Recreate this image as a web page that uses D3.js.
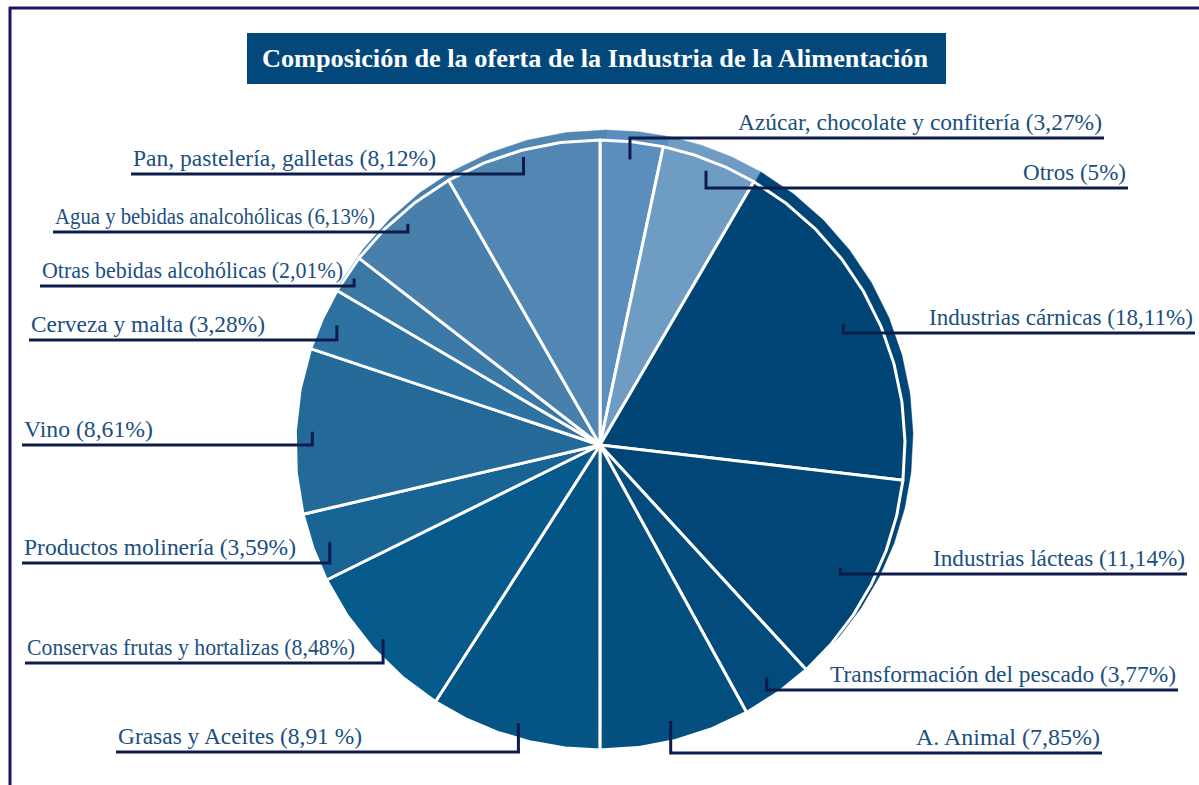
<!DOCTYPE html>
<html>
<head>
<meta charset="utf-8">
<script src="https://cdn.jsdelivr.net/npm/d3@7"></script>
<style>
  body { margin: 0; background: #fff; }
  svg { display: block; font-family: "Liberation Serif", "Times New Roman", serif; }
</style>
</head>
<body>
<div id="chart"></div>
<script>
//~~~~~~~~~~~~~~~~~~DATA
// slices clockwise from 12 o'clock
let categories = [
  'Azúcar, chocolate y confitería', 'Otros', 'Industrias cárnicas',
  'Industrias lácteas', 'Transformación del pescado', 'A. Animal',
  'Grasas y Aceites', 'Conservas frutas y hortalizas', 'Productos molinería',
  'Vino', 'Cerveza y malta', 'Otras bebidas alcohólicas',
  'Agua y bebidas analcohólicas', 'Pan, pastelería, galletas'
];
let values = [3.27, 5, 18.11, 11.14, 3.77, 7.85, 8.91, 8.48, 3.59, 8.61, 3.28, 2.01, 6.13, 8.12];
let valueLabels = ['3,27%', '5%', '18,11%', '11,14%', '3,77%', '7,85%', '8,91 %', '8,48%',
  '3,59%', '8,61%', '3,28%', '2,01%', '6,13%', '8,12%'];
let sliceColors = ['#5b8ebc', '#6e9cc3', '#004576', '#014677', '#024b7c', '#034f80', '#045585',
  '#075b8c', '#186495', '#236a99', '#2d72a0', '#3a78a5', '#487fab', '#5187b2'];

//~~~~~~~~~~~~~~~~~~LAYOUT
let width = 1199;
let height = 785;
let cx = 600;
let cy = 445;
let radius = 305;

// label side, text x (start for left, end for right), text width, underline y, elbow radius
let labelSide = ['r', 'r', 'r', 'r', 'r', 'r', 'l', 'l', 'l', 'l', 'l', 'l', 'l', 'l'];
let labelX = [1102, 1126, 1193, 1185, 1176, 1100, 118, 27, 24, 24, 31, 42, 55, 133];
let labelW = [364, 103, 264, 252, 346, 184, 244, 328, 272, 129, 234, 301, 320, 303];
let labelY = [138, 188, 333, 574, 690, 753, 752, 663, 563, 445, 340, 286, 232, 174];
let elbowR = [287, 294, 272, 270, 286, 285, 290, 291, 287, 288, 289, 297, 293, 298];

let svg = d3.select('#chart')
  .append('svg')
  .attr('width', width)
  .attr('height', height);

//frame lines top and left
svg.append('line')
  .attr('x1', 9).attr('y1', 8).attr('x2', width).attr('y2', 8)
  .attr('stroke', '#1b1760').attr('stroke-width', 3);
svg.append('line')
  .attr('x1', 10).attr('y1', 7).attr('x2', 10).attr('y2', height)
  .attr('stroke', '#1b1760').attr('stroke-width', 3);

//title box
svg.append('rect')
  .attr('x', 247).attr('y', 33).attr('width', 699).attr('height', 51)
  .attr('fill', '#02487b');
svg.append('text')
  .attr('x', 262).attr('y', 67)
  .attr('fill', '#fff')
  .attr('font-weight', 'bold')
  .attr('font-size', 25)
  .attr('textLength', 666)
  .attr('lengthAdjust', 'spacingAndGlyphs')
  .text('Composición de la oferta de la Industria de la Alimentación');

//~~~~~~~~~~~~~~~~~~PIE
let pie = d3.pie()
  .value(function(d) { return d; })
  .sort(null);

let arcs = pie(values);

// the original pie is drawn with straight segments, so build polygons
function polyArc(d, r, ox, oy) {
  let step = 8 * Math.PI / 180;
  let n = Math.max(1, Math.ceil((d.endAngle - d.startAngle) / step));
  let pts = [[ox, oy]];
  for (let i = 0; i <= n; i++) {
    let a = d.startAngle + (d.endAngle - d.startAngle) * i / n;
    pts.push([ox + r * Math.sin(a), oy - r * Math.cos(a)]);
  }
  return d3.line()(pts) + 'Z';
}

//rim behind the pie (gives the slight 3d edge on top / right)
svg.append('g')
  .selectAll('path')
  .data(arcs)
  .enter()
  .append('path')
  .attr('d', function(d) { return polyArc(d, radius + 2, cx + 6, cy - 8); })
  .attr('fill', function(d, i) { return sliceColors[i]; })
  .attr('stroke', function(d, i) { return sliceColors[i]; })
  .attr('stroke-width', 0.5);

svg.append('g')
  .selectAll('path')
  .data(arcs)
  .enter()
  .append('path')
  .attr('d', function(d) { return polyArc(d, radius, cx, cy); })
  .attr('fill', function(d, i) { return sliceColors[i]; })
  .attr('stroke', '#fff')
  .attr('stroke-width', 3)
  .attr('stroke-linejoin', 'round');

//~~~~~~~~~~~~~~~~~~LABELS
let labels = svg.append('g')
  .selectAll('g')
  .data(arcs)
  .enter()
  .append('g');

labels.append('text')
  .attr('x', function(d, i) { return labelSide[i] === 'r' ? labelX[i] - labelW[i] : labelX[i]; })
  .attr('y', function(d, i) { return labelY[i] - 8; })
  .attr('font-size', 23)
  .attr('textLength', function(d, i) { return labelW[i]; })
  .attr('lengthAdjust', 'spacingAndGlyphs')
  .attr('fill', '#1b4f80')
  .text(function(d, i) { return categories[i] + ' (' + valueLabels[i] + ')'; });

labels.append('path')
  .attr('d', function(d, i) {
    let a = (d.startAngle + d.endAngle) / 2;
    let ex = cx + elbowR[i] * Math.sin(a);
    let ey = cy - elbowR[i] * Math.cos(a);
    let tx = labelSide[i] === 'r' ? labelX[i] + 2 : labelX[i] - 2;
    return d3.line()([[tx, labelY[i]], [ex, labelY[i]], [ex, ey]]);
  })
  .attr('fill', 'none')
  .attr('stroke', '#0e1c4c')
  .attr('stroke-width', 3);
</script>
</body>
</html>
